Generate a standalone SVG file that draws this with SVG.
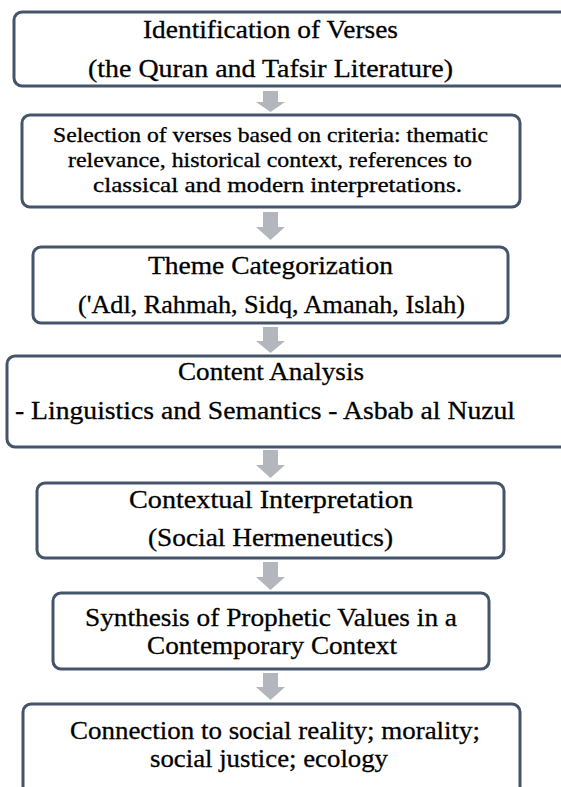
<svg xmlns="http://www.w3.org/2000/svg" width="561" height="787" viewBox="0 0 561 787">
<style>
.box{fill:#ffffff;stroke:#44546A;stroke-width:3}
.arr{fill:#B3B6BC}
text{font-family:"Liberation Serif","Times New Roman",serif;fill:#000;stroke:#000;stroke-width:0.3;text-anchor:middle}
.l{font-size:26px}
.s{font-size:21px}
</style>
<rect width="561" height="787" fill="#ffffff"/>
<g id="connectors">
<path class="arr" d="M263,91H278V102H285L270.5,112L256,102H263Z"/>
<path class="arr" d="M263,212H278V227H285L270.5,240L256,227H263Z"/>
<path class="arr" d="M263,327H278V341H285L270.5,353L256,341H263Z"/>
<path class="arr" d="M263,450H278V465H285L270.5,478L256,465H263Z"/>
<path class="arr" d="M263,562H278V577H285L270.5,590L256,577H263Z"/>
<path class="arr" d="M263,673H278V687H285L270.5,700L256,687H263Z"/>
</g>
<g id="node1">
<rect class="box" x="14" y="12" width="560" height="74" rx="8"/>
<text class="l" x="270.5" y="38" textLength="255" lengthAdjust="spacingAndGlyphs">Identification of Verses</text>
<text class="l" x="270.5" y="77" textLength="365" lengthAdjust="spacingAndGlyphs">(the Quran and Tafsir Literature)</text>
</g>
<g id="node2">
<rect class="box" x="22" y="115" width="498" height="92" rx="8"/>
<text class="s" x="270.5" y="142" textLength="435" lengthAdjust="spacingAndGlyphs">Selection of verses based on criteria: thematic</text>
<text class="s" x="270" y="167" textLength="404" lengthAdjust="spacingAndGlyphs">relevance, historical context, references to</text>
<text class="s" x="277.5" y="192" textLength="369" lengthAdjust="spacingAndGlyphs">classical and modern interpretations.</text>
</g>
<g id="node3">
<rect class="box" x="33" y="247" width="475" height="76" rx="8"/>
<text class="l" x="270.5" y="274" textLength="245" lengthAdjust="spacingAndGlyphs">Theme Categorization</text>
<text class="l" x="271.5" y="313" textLength="387" lengthAdjust="spacingAndGlyphs">('Adl, Rahmah, Sidq, Amanah, Islah)</text>
</g>
<g id="node4">
<rect class="box" x="7" y="356" width="563" height="91" rx="8"/>
<text class="l" x="271" y="380" textLength="186" lengthAdjust="spacingAndGlyphs">Content Analysis</text>
<text class="l" x="265" y="419" textLength="500" lengthAdjust="spacingAndGlyphs">- Linguistics and Semantics - Asbab al Nuzul</text>
</g>
<g id="node5">
<rect class="box" x="37" y="483" width="467" height="75" rx="8"/>
<text class="l" x="271" y="508" textLength="284" lengthAdjust="spacingAndGlyphs">Contextual Interpretation</text>
<text class="l" x="270.5" y="546" textLength="245" lengthAdjust="spacingAndGlyphs">(Social Hermeneutics)</text>
</g>
<g id="node6">
<rect class="box" x="53" y="593" width="436" height="76" rx="8"/>
<text class="l" x="271" y="626" textLength="372" lengthAdjust="spacingAndGlyphs">Synthesis of Prophetic Values in a</text>
<text class="l" x="272" y="654" textLength="250" lengthAdjust="spacingAndGlyphs">Contemporary Context</text>
</g>
<g id="node7">
<rect class="box" x="23" y="704" width="497" height="100" rx="8"/>
<text class="l" x="275" y="739" textLength="410" lengthAdjust="spacingAndGlyphs">Connection to social reality; morality;</text>
<text class="l" x="269" y="767" textLength="238" lengthAdjust="spacingAndGlyphs">social justice; ecology</text>
</g>
</svg>
